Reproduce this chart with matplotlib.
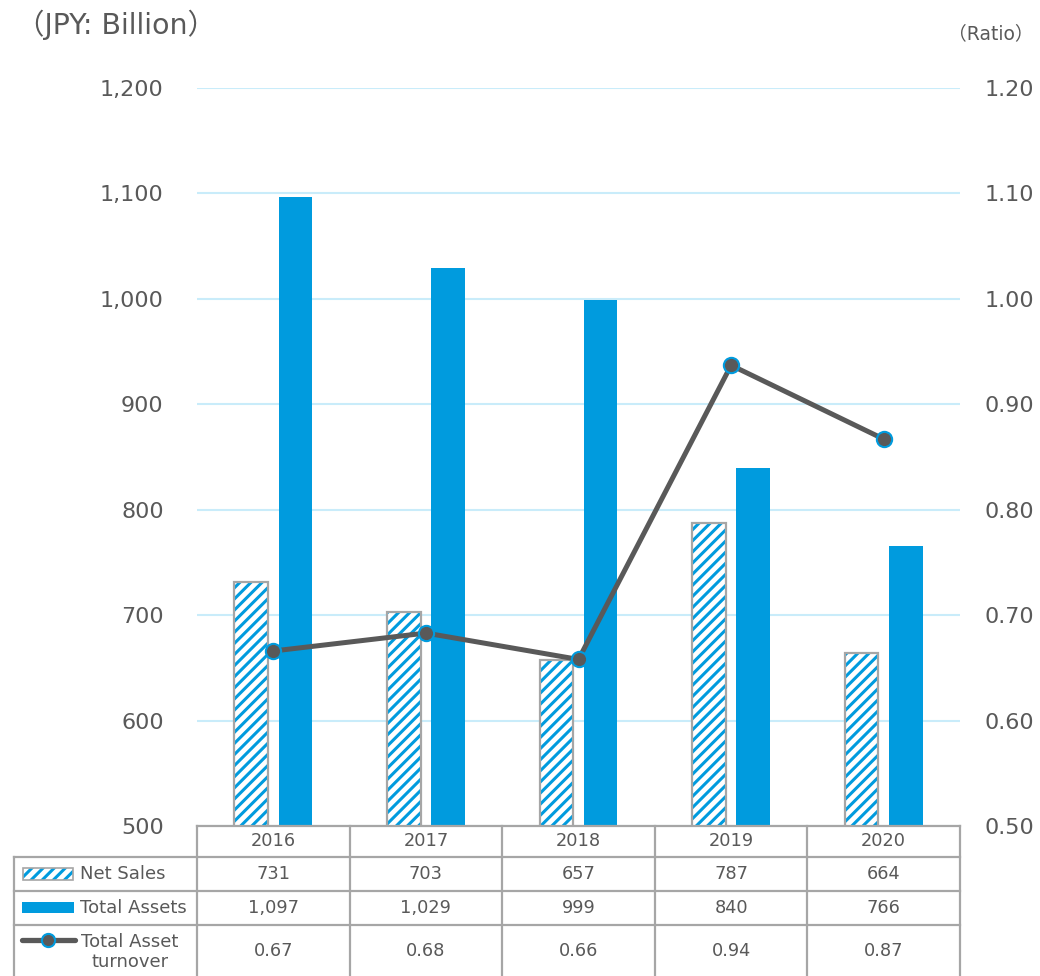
import matplotlib
matplotlib.use("Agg")
import matplotlib.pyplot as plt
from matplotlib.patches import Rectangle
from matplotlib.lines import Line2D
from matplotlib.transforms import blended_transform_factory
import numpy as np

plt.rcParams['font.family'] = ['DejaVu Sans', 'Noto Sans CJK JP']
plt.rcParams['hatch.linewidth'] = 2.2

years = ["2016", "2017", "2018", "2019", "2020"]
net_sales = [731, 703, 657, 787, 664]
total_assets = [1097, 1029, 999, 840, 766]
turnover = [0.666, 0.683, 0.658, 0.937, 0.867]

BLUE = "#009BDE"
GREY = "#595959"
EDGE = "#A6A6A6"
GRID = "#C9ECFA"

W, H = 1040, 976
fig = plt.figure(figsize=(W / 100, H / 100), dpi=100)


def fx(px):
    return px / W


def fy(py):
    return 1 - py / H


ax = fig.add_axes([fx(197), fy(826), fx(960) - fx(197), fy(88) - fy(826)])
x = np.arange(len(years))
bw = 0.22
off = 0.145

# net sales: hatched layer + grey outline
ax.bar(x - off, net_sales, bw, color="white", edgecolor=BLUE,
       hatch="///", linewidth=0, zorder=2)
ax.bar(x - off, net_sales, bw, color="none", edgecolor=EDGE, linewidth=1.6, zorder=3)
ax.bar(x + off, total_assets, bw, color=BLUE, linewidth=0, zorder=2)

ax.set_xlim(-0.5, len(years) - 0.5)
ax.set_ylim(500, 1200)
ax.set_yticks(np.arange(500, 1201, 100))
ax.set_yticklabels([f"{v:,}" for v in range(500, 1201, 100)])
ax.yaxis.grid(True, color=GRID, linewidth=1.5, zorder=0)
ax.set_axisbelow(True)
ax.set_xticks([])
ax.tick_params(axis="y", length=0, pad=24, labelsize=16, labelcolor=GREY)
for s in ax.spines.values():
    s.set_visible(False)

ax2 = ax.twinx()
ax2.plot(x, turnover, color=GREY, linewidth=3.6, marker="o", markersize=11,
         markerfacecolor=GREY, markeredgecolor=BLUE, markeredgewidth=1.5, zorder=5)
ax2.set_ylim(0.5, 1.2)
ax2.set_yticks(np.arange(0.5, 1.21, 0.1))
ax2.set_yticklabels([f"{v:.2f}" for v in np.arange(0.5, 1.21, 0.1)])
ax2.tick_params(axis="y", length=0, pad=18, labelsize=16, labelcolor=GREY)
for s in ax2.spines.values():
    s.set_visible(False)

fig.text(fx(16), fy(25), "（JPY: Billion）", fontsize=20.5, color=GREY, ha="left", va="center")
fig.text(fx(1034), fy(34), "（Ratio）", fontsize=13.5, color=GREY, ha="right", va="center")

# data table below the plot
tr = blended_transform_factory(ax.transData, fig.transFigure)
rows_y = [826, 857, 891, 925, 976]
lw = 1.6
for k in range(len(years) + 1):
    fig.add_artist(Line2D([k - 0.5, k - 0.5], [fy(826), fy(976)], transform=tr,
                          color=EDGE, linewidth=lw))
fig.add_artist(Line2D([fx(14), fx(14)], [fy(857), fy(976)], color=EDGE, linewidth=lw))
fig.add_artist(Line2D([fx(197), fx(960)], [fy(826), fy(826)], color=EDGE, linewidth=lw))
for ry in rows_y[1:4]:
    fig.add_artist(Line2D([fx(14), fx(960)], [fy(ry), fy(ry)], color=EDGE, linewidth=lw))

row_vals = [years, [f"{v:,}" for v in net_sales], [f"{v:,}" for v in total_assets],
            [f"{v:.2f}" for v in turnover]]
for r, vals in enumerate(row_vals):
    yc = fy((rows_y[r] + rows_y[r + 1]) / 2) if r < 3 else fy(951)
    for k, v in enumerate(vals):
        fig.text(k, yc, v, transform=tr, ha="center", va="center", fontsize=12.8, color=GREY)

# legend keys inside the table
fig.add_artist(Rectangle((fx(23), fy(880)), fx(73) - fx(23), fy(868) - fy(880),
                         facecolor="white", edgecolor=BLUE, hatch="///", linewidth=0))
fig.add_artist(Rectangle((fx(23), fy(880)), fx(73) - fx(23), fy(868) - fy(880),
                         facecolor="none", edgecolor=EDGE, linewidth=1.2))
fig.add_artist(Rectangle((fx(22), fy(913)), fx(74) - fx(22), fy(902) - fy(913),
                         facecolor=BLUE, linewidth=0))
fig.add_artist(Line2D([fx(22), fx(75)], [fy(940), fy(940)], color=GREY, linewidth=3.8,
                      solid_capstyle="round"))
fig.add_artist(Line2D([fx(48)], [fy(940)], marker="o", markersize=9.5, color=GREY,
                      markerfacecolor=GREY, markeredgecolor=BLUE, markeredgewidth=1.5))
fig.text(fx(80), fy(874), "Net Sales", fontsize=13, color=GREY, ha="left", va="center")
fig.text(fx(80), fy(908), "Total Assets", fontsize=13, color=GREY, ha="left", va="center")
fig.text(fx(130), fy(952), "Total Asset\nturnover", fontsize=13, color=GREY, ha="center",
         va="center", multialignment="center", linespacing=1.1)

fig.savefig("out.png", dpi=100)
